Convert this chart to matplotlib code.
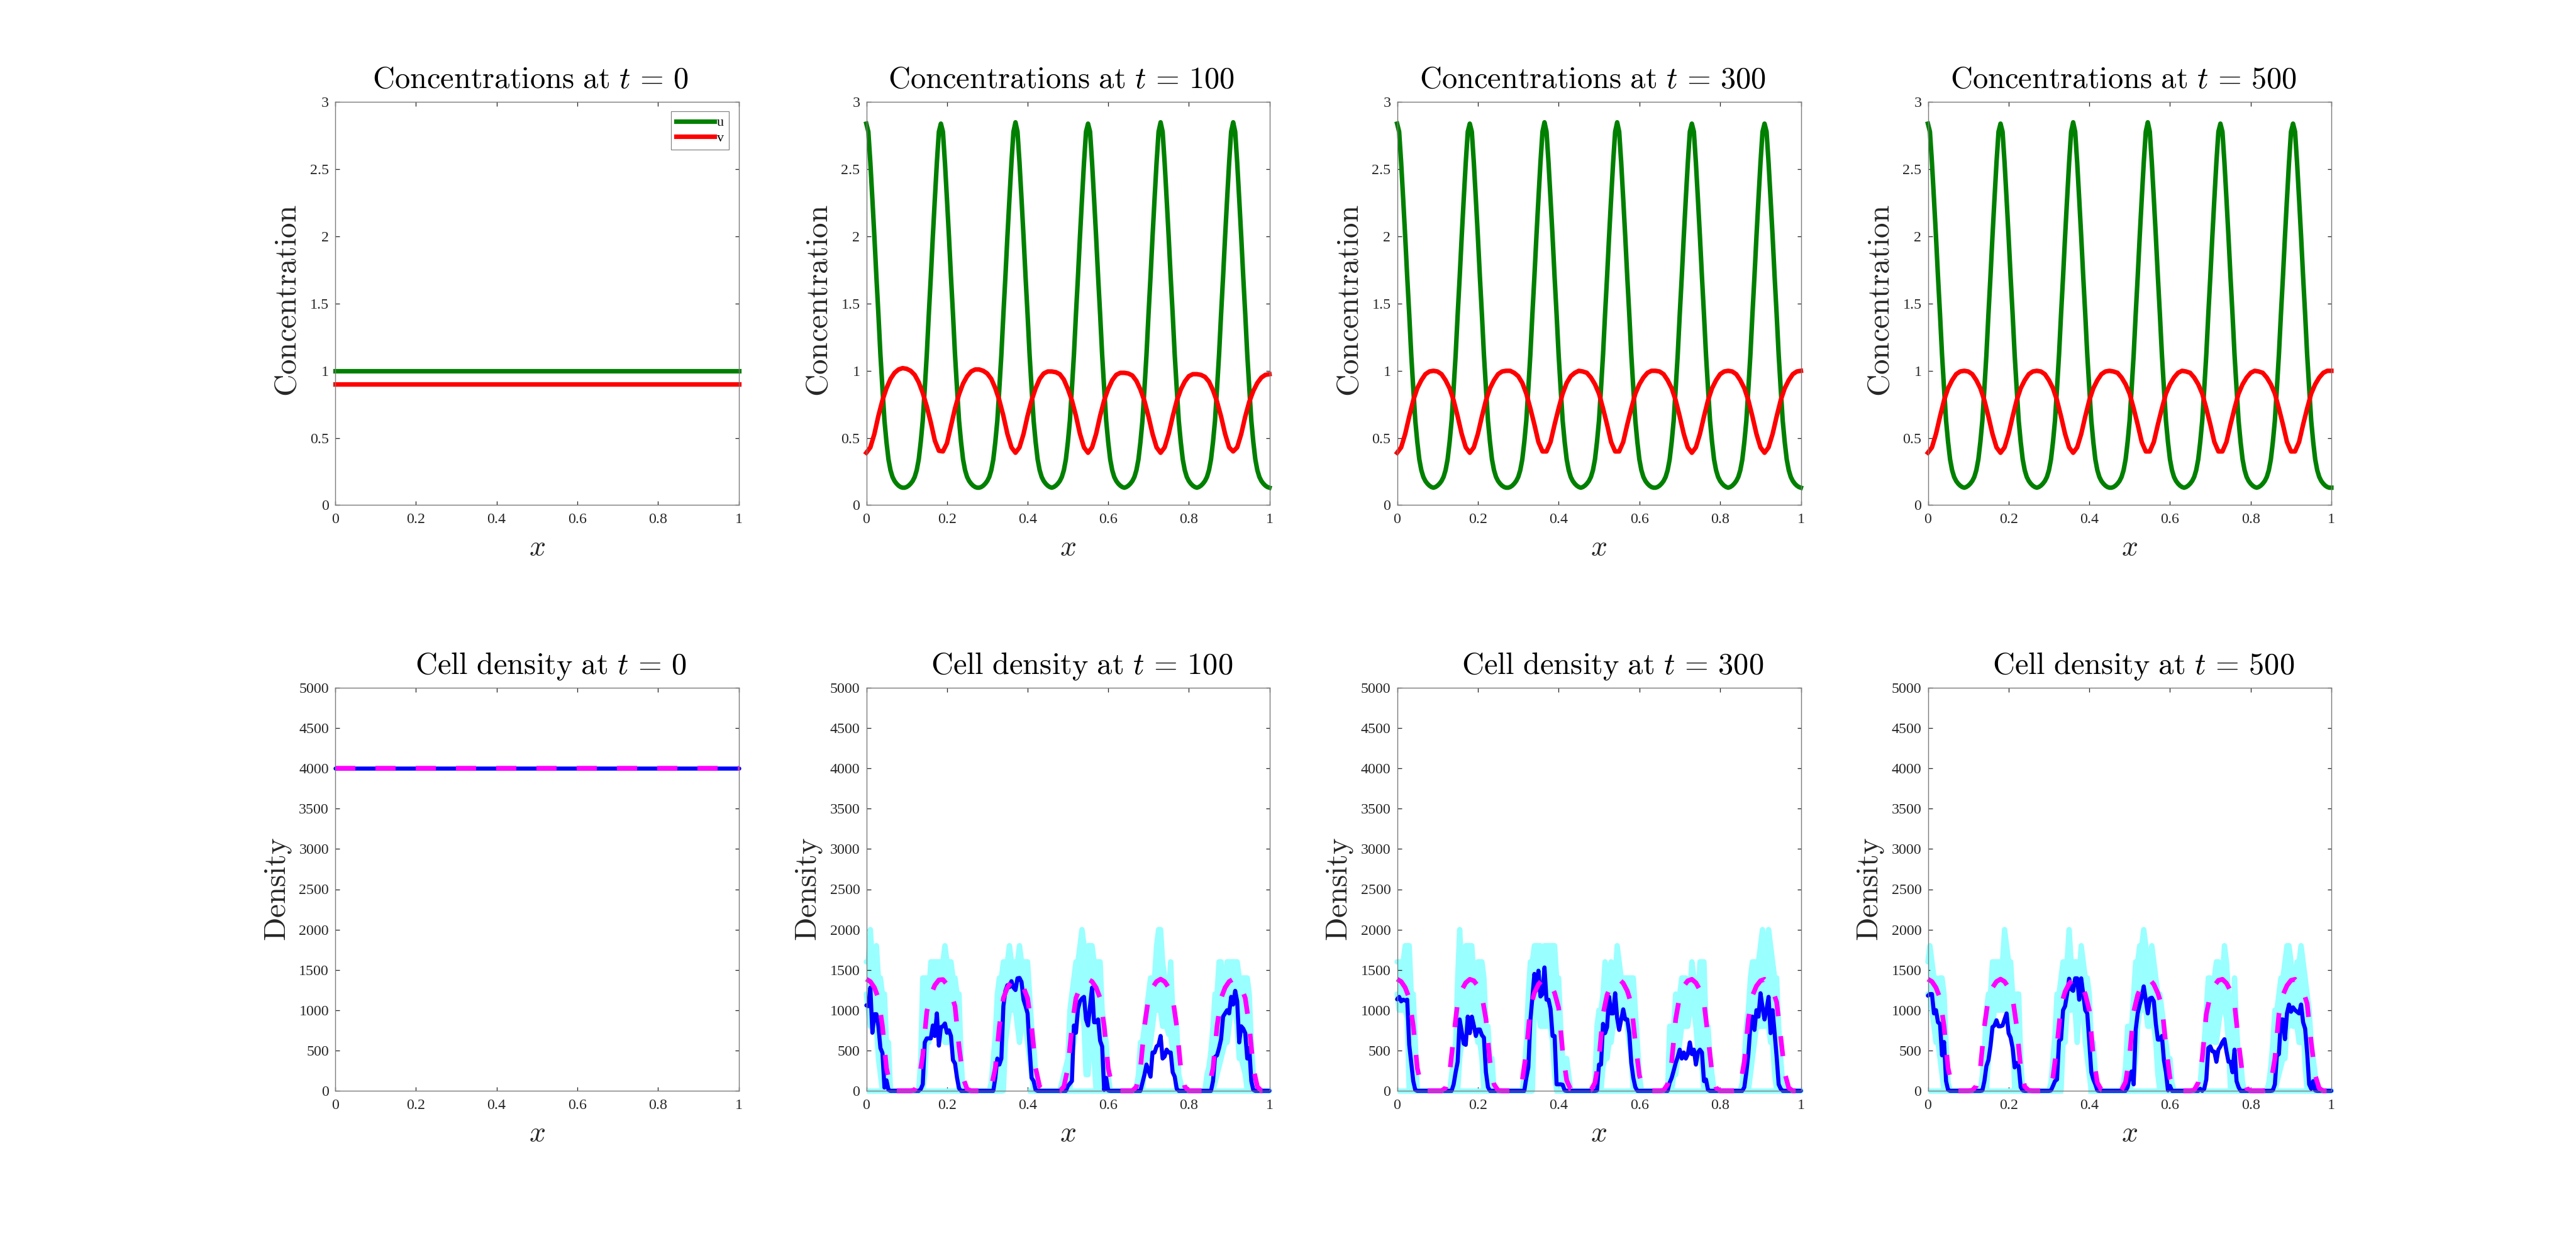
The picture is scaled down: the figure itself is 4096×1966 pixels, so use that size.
import numpy as np
import matplotlib
matplotlib.use("Agg")
import matplotlib.pyplot as plt

W, H, DPI = 4096, 1966, 100
PX = 72 / DPI
plt.rcParams["mathtext.fontset"] = "cm"
plt.rcParams["font.family"] = ["Liberation Serif", "DejaVu Serif"]
plt.rcParams["lines.scale_dashes"] = False

times = [0, 100, 300, 500]
x_ticks = [0, 0.2, 0.4, 0.6, 0.8, 1]
x_labels = ["0", "0.2", "0.4", "0.6", "0.8", "1"]
c_ticks = [0, 0.5, 1, 1.5, 2, 2.5, 3]
c_labels = ["0", "0.5", "1", "1.5", "2", "2.5", "3"]
d_ticks = [0, 500, 1000, 1500, 2000, 2500, 3000, 3500, 4000, 4500, 5000]
d_labels = [str(t) for t in d_ticks]

# ---- concentrations (u on a 0.005 grid, v on a 0.01 grid)
u_0 = [1.0] * 201
v_0 = [0.9] * 101

u_100 = [2.84,2.78,2.55,2.28,2.0,1.7,1.42,1.12,.87,.63,.47,.34,.26,.21,.18,.16,.145,.135,.13,.13,.135,.145,.16,.18,.21,.26,.34,.47,.63,.87,1.12,1.42,1.7,2.0,2.28,2.55,2.78,
 2.84,2.78,2.55,2.28,2.0,1.7,1.42,1.12,.87,.63,.47,.34,.26,.21,.18,.16,.145,.135,.13,.13,.135,.145,.16,.18,.21,.26,.34,.47,.63,.87,1.12,1.42,1.7,2.0,2.28,2.55,2.78,
 2.85,2.78,2.55,2.28,2.0,1.7,1.42,1.12,.87,.63,.47,.34,.26,.21,.18,.16,.145,.135,.13,.135,.145,.16,.18,.21,.26,.34,.47,.63,.87,1.12,1.42,1.7,2.0,2.28,2.55,2.78,
 2.84,2.78,2.55,2.28,2.0,1.7,1.42,1.12,.87,.63,.47,.34,.26,.21,.18,.16,.145,.135,.13,.135,.145,.16,.18,.21,.26,.34,.47,.63,.87,1.12,1.42,1.7,2.0,2.28,2.55,2.78,
 2.85,2.78,2.55,2.28,2.0,1.7,1.42,1.12,.87,.63,.47,.34,.26,.21,.18,.16,.145,.135,.13,.135,.145,.16,.18,.21,.26,.34,.47,.63,.87,1.12,1.42,1.7,2.0,2.28,2.55,2.78,
 2.85,2.78,2.55,2.28,2.0,1.7,1.42,1.12,.87,.63,.47,.34,.26,.21,.18,.16,.145,.135,.13]
u_300 = [2.84,2.78,2.55,2.28,2.0,1.7,1.42,1.12,.87,.63,.47,.34,.26,.21,.18,.16,.145,.135,.13,.135,.145,.16,.18,.21,.26,.34,.47,.63,.87,1.12,1.42,1.7,2.0,2.28,2.55,2.78,
 2.84,2.78,2.55,2.28,2.0,1.7,1.42,1.12,.87,.63,.47,.34,.26,.21,.18,.16,.145,.135,.13,.13,.135,.145,.16,.18,.21,.26,.34,.47,.63,.87,1.12,1.42,1.7,2.0,2.28,2.55,2.78,
 2.85,2.78,2.55,2.28,2.0,1.7,1.42,1.12,.87,.63,.47,.34,.26,.21,.18,.16,.145,.135,.13,.135,.145,.16,.18,.21,.26,.34,.47,.63,.87,1.12,1.42,1.7,2.0,2.28,2.55,2.78,
 2.85,2.78,2.55,2.28,2.0,1.7,1.42,1.12,.87,.63,.47,.34,.26,.21,.18,.16,.145,.135,.13,.13,.135,.145,.16,.18,.21,.26,.34,.47,.63,.87,1.12,1.42,1.7,2.0,2.28,2.55,2.78,
 2.84,2.78,2.55,2.28,2.0,1.7,1.42,1.12,.87,.63,.47,.34,.26,.21,.18,.16,.145,.135,.13,.135,.145,.16,.18,.21,.26,.34,.47,.63,.87,1.12,1.42,1.7,2.0,2.28,2.55,2.78,
 2.84,2.78,2.55,2.28,2.0,1.7,1.42,1.12,.87,.63,.47,.34,.26,.21,.18,.16,.145,.135,.13]
u_500 = [2.84,2.78,2.55,2.28,2.0,1.7,1.42,1.12,.87,.63,.47,.34,.26,.21,.18,.16,.145,.135,.13,.135,.145,.16,.18,.21,.26,.34,.47,.63,.87,1.12,1.42,1.7,2.0,2.28,2.55,2.78,
 2.84,2.78,2.55,2.28,2.0,1.7,1.42,1.12,.87,.63,.47,.34,.26,.21,.18,.16,.145,.135,.13,.135,.145,.16,.18,.21,.26,.34,.47,.63,.87,1.12,1.42,1.7,2.0,2.28,2.55,2.78,
 2.85,2.78,2.55,2.28,2.0,1.7,1.42,1.12,.87,.63,.47,.34,.26,.21,.18,.16,.145,.135,.13,.13,.135,.145,.16,.18,.21,.26,.34,.47,.63,.87,1.12,1.42,1.7,2.0,2.28,2.55,2.78,
 2.85,2.78,2.55,2.28,2.0,1.7,1.42,1.12,.87,.63,.47,.34,.26,.21,.18,.16,.145,.135,.13,.135,.145,.16,.18,.21,.26,.34,.47,.63,.87,1.12,1.42,1.7,2.0,2.28,2.55,2.78,
 2.84,2.78,2.55,2.28,2.0,1.7,1.42,1.12,.87,.63,.47,.34,.26,.21,.18,.16,.145,.135,.13,.135,.145,.16,.18,.21,.26,.34,.47,.63,.87,1.12,1.42,1.7,2.0,2.28,2.55,2.78,
 2.84,2.78,2.55,2.28,2.0,1.7,1.42,1.12,.87,.63,.47,.34,.26,.21,.18,.16,.145,.135,.13,.13]
v_100 = [.39,.43,.53,.665,.78,.87,.94,.985,1.01,1.02,1.015,1.0,.97,.915,.835,.735,.615,.48,.405,.40,.46,.59,.72,.825,.905,.96,.995,1.01,1.01,1.0,.98,.94,.87,.78,.665,.53,.43,.39,.43,.53,.665,.78,.87,.94,.98,.995,.995,.99,.975,.935,.865,.78,.665,.53,.43,.39,.43,.53,.665,.78,.865,.93,.97,.985,.985,.98,.965,.925,.86,.775,.66,.53,.43,.39,.43,.53,.66,.775,.86,.92,.96,.975,.975,.97,.955,.92,.855,.77,.66,.53,.43,.40,.43,.53,.66,.77,.85,.91,.95,.97,.975]
v_300 = [.39,.43,.53,.66,.78,.87,.93,.975,.995,1.0,.995,.975,.93,.87,.78,.66,.53,.43,.39,.43,.53,.66,.78,.87,.93,.975,.995,1.0,1.0,.985,.96,.91,.83,.72,.60,.47,.40,.40,.47,.60,.72,.83,.91,.96,.985,1.0,.995,.985,.95,.90,.83,.72,.60,.47,.40,.40,.47,.60,.72,.83,.90,.95,.985,1.0,1.0,.995,.975,.93,.87,.78,.66,.53,.43,.39,.43,.53,.66,.78,.87,.93,.975,.995,1.0,.995,.975,.93,.87,.78,.66,.53,.43,.39,.43,.53,.66,.78,.87,.93,.975,.995,1.0]
v_500 = [.39,.43,.53,.66,.78,.87,.93,.975,.995,1.0,.995,.975,.93,.87,.78,.66,.53,.43,.39,.43,.53,.66,.78,.87,.93,.975,.995,1.0,.995,.975,.93,.87,.78,.66,.53,.43,.39,.43,.53,.66,.78,.87,.93,.975,.995,1.0,.995,.985,.95,.90,.83,.72,.60,.47,.40,.40,.47,.60,.72,.83,.90,.95,.985,1.0,.995,.985,.95,.90,.83,.72,.60,.47,.40,.40,.47,.60,.72,.83,.90,.95,.985,1.0,.995,.985,.95,.90,.83,.72,.60,.47,.40,.40,.47,.60,.72,.83,.90,.95,.985,1.0,1.0]

# ---- magenta mean density on a 0.01 grid
m_0 = [4000] * 101
m_100 = [1385,1355,1280,1150,800,280,50,0,0,0,0,0,10,110,440,980,1190,1310,1375,1380,1320,1210,1050,550,160,20,0,0,0,0,0,50,280,800,1150,1280,1355,1385,1355,1280,1150,800,280,50,0,0,0,0,0,50,280,800,1150,1280,1355,1385,1355,1280,1150,800,280,50,0,0,0,0,0,50,280,800,1150,1280,1355,1385,1355,1280,1150,800,280,50,0,0,0,0,0,50,280,800,1150,1280,1355,1385,1355,1280,1150,800,280,50,0,0,0]
m_300 = [1385,1355,1280,1150,800,280,50,0,0,0,0,0,35,220,670,1100,1250,1340,1383,1365,1300,1180,890,360,80,5,0,0,0,0,15,130,480,1030,1215,1320,1378,1378,1320,1215,1030,480,130,15,0,0,0,0,8,100,400,950,1190,1305,1370,1383,1335,1240,1080,600,190,30,0,0,0,0,5,80,360,890,1180,1300,1365,1383,1340,1250,1100,670,220,35,0,0,0,0,5,80,360,890,1180,1300,1365,1383,1340,1250,1100,670,220,35,0,0,0]
m_500 = [1385,1355,1280,1150,800,280,50,0,0,0,0,5,60,280,800,1150,1280,1355,1385,1355,1280,1150,800,280,50,5,0,0,0,0,25,170,560,1060,1230,1330,1380,1375,1310,1200,1000,420,100,10,0,0,0,0,10,110,440,980,1190,1310,1375,1380,1320,1210,1050,550,160,20,0,0,0,0,8,100,400,950,1190,1305,1370,1383,1335,1240,1080,600,190,30,0,0,0,0,8,100,400,950,1190,1305,1370,1383,1335,1240,1080,600,190,30,0,0,0]

# ---- density runs on a 0.005 grid: (first index, values); everything else is 0
blue_0 = [(0, [4000] * 201)]
blue_100 = [
 (0, [1060,1050,1280,720,950,950,800,530,470,40,130,10]),
 (27, [20,80,600,650,650,650,810,680,960,560,790,800,835,720,750,680,380,340,160,30]),
 (64, [160,400,325,400,1050,1240,1310,1285,1360,1280,1250,1395,1400,1350,1130,1050,960,530,160,120,10]),
 (100, [60,90,120,810,720,1015,1110,1145,1165,885,810,1050,1280,850,850,885,620,550,10,160,5]),
 (137, [100,200,325,250,175,475,475,550,570,680,400,425,510,475,475,230,175,25]),
 (172, [120,420,440,530,640,920,960,1000,960,1165,1070,1240,1110,600,800,770,715,400,530,120,10]),
]
blue_300 = [
 (0, [1135,1165,1110,1130,1120,1130,570,345,120,10]),
 (28, [80,230,360,885,735,585,570,920,715,920,810,680,760,760,690,660,230,45]),
 (64, [160,290,870,1165,1450,1250,1490,1170,1200,1530,1130,1130,1015,680,680,80,80,80,75,5]),
 (99, [5,325,325,830,715,790,1165,960,960,1210,900,755,885,1010,885,885,715,345,160,45]),
 (135, [100,160,250,345,420,510,400,475,400,455,600,455,510,325,475,510,475,120,140,10]),
 (172, [45,230,455,810,920,755,1000,920,1210,1035,885,1010,1165,715,1000,715,420,80,25]),
]
blue_500 = [
 (0, [1180,1200,1200,960,1000,850,830,440,605,120,10]),
 (27, [5,120,305,380,550,790,810,875,800,800,810,885,960,715,660,530,290,345,305,45,5]),
 (61, [5,60,120,140,620,640,1000,1050,1200,1390,1260,1240,1395,1395,1130,1395,1200,1000,960,605,230,140,80,5]),
 (99, [45,175,240,80,755,960,1070,1165,1295,1130,960,1145,1155,1110,830,635,635,680,380,230,5,60]),
 (135, [25,0,25,140,530,550,490,485,360,510,550,605,640,490,360,360,230,510,120,45]),
 (171, [5,80,435,455,885,885,640,960,1070,980,1035,1000,980,960,1070,850,770,475,80,25,120,5]),
]

hi_100 = [
 (0, [1600,1600,2000,1600,1600,1800,1400,1400,1200,1200,600,600]),
 (27, [400,1400,1400,1400,1200,1600,1600,1600,1600,1600,1600,1600,1800,1600,1600,1600,1400,1400,1200,1200,400]),
 (62, [100,400,700,1200,1400,1400,1600,1600,1600,1800,1600,1600,1600,1600,1800,1600,1600,1600,1600,1200,800,600,200]),
 (97, [100,200,300,400,1000,1200,1400,1600,1600,1800,2000,1800,1600,1800,1800,1800,1600,1600,1600,1600,1000,800,600,200]),
 (134, [50,200,600,600,800,1000,1200,1400,1400,1400,1800,2000,2000,1600,1400,1400,1200,1600,1000,800,800,200,100]),
 (169, [200,300,500,800,1200,1200,1600,1600,1200,1300,1600,1600,1600,1600,1600,1600,1400,1400,1400,1400,1400,1200,600,200,100]),
]
lo_100 = [
 (0, [1200,1000,800,800,800,800,400,200]),
 (29, [200,600,600,800,800,800,800,700,700,700,600,600,600,800,700,600,400]),
 (69, [600,800,1000,1000,1000,1000,800,600,800,1000,800,600,400,200]),
 (102, [500,600,800,1000,1000,1000,800,200,200,600,800,400]),
 (138, [300,400,400,600,800,1000,1000,1000,1000,800,800,800,700,700,500,300]),
 (173, [100,200,300,400,500,600,600,800,1000,1000,1000,800,400,400,300,200]),
]
hi_300 = [
 (0, [1600,1600,1600,1600,1800,1800,1800,1200,1200,600]),
 (27, [200,400,600,1400,2000,1500,1500,1800,1800,1800,1800,1400,1400,1600,1600,1600,1400,800,800,400,400]),
 (63, [200,600,1200,1600,1600,1800,1800,1800,1800,1600,1800,1800,1800,1800,1800,1800,1400,1400,800,400,400,400,200]),
 (98, [100,800,1000,1000,1200,1600,1400,1400,1600,1400,1400,1800,1600,1400,1400,1400,1400,1400,1400,1400,1000,600,200]),
 (135, [800,800,800,1200,1000,1200,1400,1400,1400,1200,1200,1600,1400,1400,1000,1600,1600,1600,800,800,400,200]),
 (171, [100,400,800,1000,1400,1600,1600,1600,1600,1800,2000,1800,1800,2000,1800,1600,1400,1400,800,400,100]),
]
lo_300 = [
 (0, [1200,1000,1000,1000,1000,900]),
 (31, [400,600,700,800,1000,1000,1000,1000,800,600,600,400]),
 (68, [1000,1000,1000,800,800,800,800,800,800,600,200]),
 (102, [300,400,400,600,600,800,800,1000,1000,1000,1000,1000,800,600,400]),
 (137, [200,200,400,600,800,800,800,800,1000,1000,1000,800,500,500,300]),
 (175, [200,400,600,800,800,800,800,800,800,800,600,600,200]),
]
hi_500 = [
 (0, [1600,1800,1600,1400,1400,1200,1400,1400,1200,600,100]),
 (27, [200,500,1000,1200,1200,1600,1600,1600,1600,1600,1600,2000,1800,1600,1600,1200,1200,1200,1200,400]),
 (61, [100,400,700,1200,1200,1400,1600,1600,1600,2000,1600,1600,1600,1600,1400,1800,1600,1400,1400,1200,600,600,200]),
 (97, [100,300,800,800,800,1200,1600,1600,1800,1800,2000,1800,1600,1600,1800,1600,1400,1200,1200,1000,800,600,400,400,100]),
 (135, [100,400,600,1000,1400,1400,1200,1400,1600,1600,1400,1400,1800,1600,1200,1000,800,1400,800,400,400,100]),
 (169, [100,300,600,1000,1000,1200,1400,1400,1600,1800,1800,1600,1200,1400,1600,1600,1800,1600,1400,1200,1000,600,400,200]),
]
lo_500 = [
 (0, [1200,1200,1000,800,600,600,400,200]),
 (30, [400,600,800,1000,1000,1000,1000,1000,1000,1000,1000,1000,800]),
 (67, [600,600,1000,1000,1000,1000,1000,600,1000,1000,1000,600,400,200]),
 (101, [100,200,400,800,1000,1000,1000,1000,800,800,1000,800,600,200]),
 (137, [200,400,600,600,800,600,600,800,1000,1000,1000,900,600]),
 (173, [100,200,300,400,400,800,800,900,800,800,800,600,600,800,300]),
]
# stretches of x where a run sits on zero underneath the spread
floor_100 = [(0.0, 0.338), (0.40, 1.0)]
floor_300 = [(0.0, 0.335), (0.39, 1.0)]
floor_500 = [(0.0, 0.334), (0.397, 1.0)]

# ---- layout in reference pixels
ax_left = [533, 1377.5, 2221.5, 3065.5]
ax_right = [1174.5, 2018.5, 2863.5, 3707]
row_top = [162.5, 1094]
row_bottom = [803.5, 1735]
COL_DARK = "#262626"
CYAN = "#99ffff"


def on_grid(runs):
    arr = np.zeros(201)
    for start, vals in runs:
        arr[start:start + len(vals)] = vals
    return arr


x_fine = np.linspace(0, 1, 201)
x_coarse = np.linspace(0, 1, 101)

fig = plt.figure(figsize=(W / DPI, H / DPI), dpi=DPI, facecolor="white")


def make_axes(col, row, yticks, ylabels, ymax):
    ax = fig.add_axes([ax_left[col] / W, 1 - row_bottom[row] / H,
                       (ax_right[col] - ax_left[col]) / W,
                       (row_bottom[row] - row_top[row]) / H])
    ax.set_xlim(0, 1)
    ax.set_ylim(0, ymax)
    ax.set_xticks(x_ticks, x_labels)
    ax.set_yticks(yticks, ylabels)
    ax.tick_params(direction="in", top=True, right=True, length=6.5 * PX, width=1.3 * PX,
                   color=COL_DARK, labelcolor=COL_DARK, labelsize=24 * PX)
    ax.tick_params(axis="x", pad=13 * PX)
    ax.tick_params(axis="y", pad=10 * PX)
    for s in ax.spines.values():
        s.set_color("#7a7a7a")
        s.set_linewidth(1.4 * PX)
    return ax


def head(col, row, title, ylabel, title_off, ylab_off, ylab_dy):
    left, right = ax_left[col], ax_right[col]
    cx = (left + right) / 2
    fig.text((cx + title_off) / W, 1 - (row_top[row] - 23) / H, title, fontsize=48.5 * PX,
             ha="center", va="baseline", color="black")
    fig.text(cx / W, 1 - (row_bottom[row] + 80) / H, r"$x$", fontsize=46 * PX,
             ha="center", va="baseline", color=COL_DARK)
    fig.text((left - ylab_off) / W, 1 - ((row_top[row] + row_bottom[row]) / 2 + ylab_dy) / H, ylabel,
             fontsize=49 * PX, rotation=90, rotation_mode="anchor", ha="center",
             va="baseline", color=COL_DARK)


u_series = [u_0, u_100, u_300, u_500]
v_series = [v_0, v_100, v_300, v_500]
m_series = [m_0, m_100, m_300, m_500]
blue_series = [blue_0, blue_100, blue_300, blue_500]
hi_series = [None, hi_100, hi_300, hi_500]
lo_series = [None, lo_100, lo_300, lo_500]
floor_series = [None, floor_100, floor_300, floor_500]

for col, t in enumerate(times):
    ax = make_axes(col, 0, c_ticks, c_labels, 3)
    l1, = ax.plot(x_fine, u_series[col], color="#008000", lw=7.2 * PX, clip_on=False,
                  solid_joinstyle="round", label="u")
    l2, = ax.plot(x_coarse, v_series[col], color="#ff0000", lw=7.2 * PX, clip_on=False,
                  solid_joinstyle="round", label="v")
    head(col, 0, r"$\mathrm{Concentrations\ at\ }t\,=\,%d$" % t,
         r"$\mathrm{Concentration}$", -10, 62, -5)
    if col == 0:
        leg = ax.legend(handles=[l1, l2], loc="upper right", fontsize=22 * PX,
                        bbox_to_anchor=((1159 - ax_left[0]) / (ax_right[0] - ax_left[0]),
                                        (row_bottom[0] - 177) / (row_bottom[0] - row_top[0])),
                        borderaxespad=0, fancybox=False, framealpha=1, edgecolor="#808080",
                        handlelength=2.75, handletextpad=0.2, borderpad=0.36, labelspacing=0.2)
        leg.get_frame().set_linewidth(1.2 * PX)

    ax = make_axes(col, 1, d_ticks, d_labels, 5000)
    if hi_series[col] is not None:
        hi = on_grid(hi_series[col])
        lo = on_grid(lo_series[col])
        ax.fill_between(x_fine, lo, hi, color=CYAN, linewidth=0, clip_on=False)
        for arr in (hi, lo):
            ax.plot(x_fine, arr, color=CYAN, lw=8.5 * PX, clip_on=False,
                    solid_joinstyle="round", solid_capstyle="round")
        for a, b in floor_series[col]:
            ax.plot([a, b], [0, 0], color=CYAN, lw=8.5 * PX, clip_on=False,
                    solid_capstyle="butt")
    ax.plot(x_fine, on_grid(blue_series[col]), color="#0000ff", lw=6.5 * PX, clip_on=False,
            solid_joinstyle="round", solid_capstyle="round")
    ax.plot(x_coarse, m_series[col], color="#ff00ff", lw=7.5 * PX, clip_on=False,
            dashes=(32 * PX, 32 * PX), dash_capstyle="butt", dash_joinstyle="round")
    head(col, 1, r"$\mathrm{Cell\ density\ at\ }t\,=\,%d$" % t,
         r"$\mathrm{Density}$", 22, 80, 0)

fig.savefig("out.png", dpi=DPI, facecolor="white")
